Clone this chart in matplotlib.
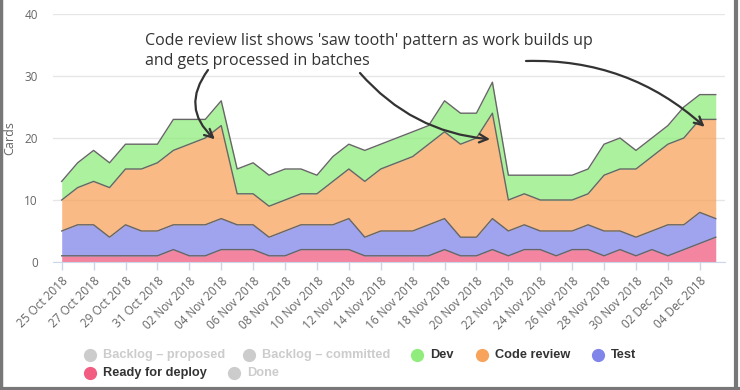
import matplotlib.pyplot as plt
import matplotlib.dates as mdates
import pandas as pd
import numpy as np
from matplotlib.lines import Line2D

# cumulative flow - cards per state per day
dates = pd.date_range(start='2018-10-25', freq='D', periods=42)

ready = [1, 1, 1, 1, 1, 1, 1, 2, 1, 1, 2, 2, 2, 1, 1, 2, 2, 2, 2, 1, 1,
         1, 1, 1, 2, 1, 1, 2, 1, 2, 2, 1, 2, 2, 1, 2, 1, 2, 1, 2, 3, 4]
test = [4, 5, 5, 3, 5, 4, 4, 4, 5, 5, 5, 4, 4, 3, 4, 4, 4, 4, 5, 3, 4,
        4, 4, 5, 5, 3, 3, 5, 4, 4, 3, 4, 3, 4, 4, 3, 3, 3, 5, 4, 5, 3]
review = [5, 6, 7, 8, 9, 10, 11, 12, 13, 14, 15, 5, 5, 5, 5, 5, 5, 7, 8, 9, 10,
          11, 12, 13, 14, 15, 16, 17, 5, 5, 5, 5, 5, 5, 9, 10, 11, 12, 13, 14, 15, 16]
dev = [3, 4, 5, 4, 4, 4, 3, 5, 4, 3, 4, 4, 5, 5, 5, 4, 3, 4, 4, 5, 4,
       4, 4, 3, 5, 5, 4, 5, 4, 3, 4, 4, 4, 4, 5, 5, 3, 3, 3, 5, 4, 4]

series = [ready, test, review, dev]
colors = ['#f15c80', '#8085e9', '#f7a35c', '#90ed7d']

legend_row1 = [('Backlog – proposed', '#cccccc', False), ('Backlog – committed', '#cccccc', False),
               ('Dev', '#90ed7d', True), ('Code review', '#f7a35c', True), ('Test', '#8085e9', True)]
legend_row2 = [('Ready for deploy', '#f15c80', True), ('Done', '#cccccc', False)]

W, H = 740, 390


def px(x, y):
    return x / W, 1 - y / H


fig = plt.figure(figsize=(7.4, 3.9), dpi=100)
ax = fig.add_axes([53 / W, 1 - 262 / H, 672 / W, 248 / H])

bottom = np.zeros(len(dates))
for s, c in zip(series, colors):
    top = bottom + np.array(s)
    ax.fill_between(dates, bottom, top, color=c, alpha=0.75, linewidth=0, zorder=2)
    ax.plot(dates, top, color='#666666', linewidth=1, zorder=3)
    bottom = top

day = pd.Timedelta(days=1)
ax.set_xlim(dates[0] - 0.545 * day, dates[-1] + 0.58 * day)
ax.set_ylim(0, 40)
ax.set_yticks([0, 10, 20, 30, 40])
ax.grid(axis='y', color='#e6e6e6', linewidth=1, zorder=0)
for side in ['left', 'right', 'top']:
    ax.spines[side].set_visible(False)
ax.spines['bottom'].set_color('#ccd6eb')
ax.spines['bottom'].set_zorder(4)

ax.set_xticks(dates[::2])
ax.xaxis.set_major_formatter(mdates.DateFormatter('%d %b %Y'))
ax.tick_params(axis='x', colors='#ccd6eb', length=6, width=1, pad=3)
ax.tick_params(axis='y', length=0, pad=11)
for lab in ax.get_xticklabels():
    lab.set_rotation(45)
    lab.set_ha('right')
    lab.set_rotation_mode('anchor')
    lab.set_color('#666666')
    lab.set_fontfamily('Open Sans')
    lab.set_fontsize(8.5)
for lab in ax.get_yticklabels():
    lab.set_color('#666666')
    lab.set_fontfamily('Open Sans')
    lab.set_fontsize(8.5)

fig.text(*px(10, 138), 'Cards', rotation=90, ha='center', va='center',
         color='#666666', fontfamily='Open Sans', fontsize=9)

# annotation
fig.text(*px(145, 33), "Code review list shows 'saw tooth' pattern as work builds up\nand gets processed in batches",
         ha='left', va='top', color='#333333', fontfamily='Open Sans', fontsize=11.5, linespacing=1.3)

arrow = dict(arrowstyle='->', color='#333333', linewidth=1.6, shrinkA=0, shrinkB=0,
             mutation_scale=15)
ax.annotate('', xy=(dates[9] + 0.6 * day, 19.8), xycoords='data',
            xytext=(208, H - 70), textcoords='figure pixels',
            arrowprops=dict(arrow, connectionstyle='arc3,rad=0.45'))
ax.annotate('', xy=(dates[26] + 0.85 * day, 19.8), xycoords='data',
            xytext=(360, H - 73), textcoords='figure pixels',
            arrowprops=dict(arrow, connectionstyle='arc3,rad=0.2'))
ax.annotate('', xy=(dates[40] + 0.3 * day, 21.8), xycoords='data',
            xytext=(526, H - 61), textcoords='figure pixels',
            arrowprops=dict(arrow, connectionstyle='arc3,rad=-0.2'))

# legend drawn by hand
def legend_item(x, y, label, color, active):
    fig.add_artist(Line2D([x / W], [1 - y / H], marker='o', markersize=8.5, color=color,
                          linestyle='none', transform=fig.transFigure))
    fig.text((x + 13) / W, 1 - y / H, label, ha='left', va='center', fontsize=9.2,
             fontfamily='Liberation Sans', fontweight='bold',
             color='#333333' if active else '#cccccc')


row1_x = [90, 249, 417, 482, 598]
row2_x = [90, 234]
for x, (label, color, active) in zip(row1_x, legend_row1):
    legend_item(x, 355, label, color, active)
for x, (label, color, active) in zip(row2_x, legend_row2):
    legend_item(x, 373, label, color, active)

# grey frame around the chart
frame = dict(color='#777777', transform=fig.transFigure)
fig.add_artist(Line2D([1 / W, 1 / W], [0, 1], linewidth=2.5, **frame))
fig.add_artist(Line2D([736 / W, 736 / W], [0, 1], linewidth=3, **frame))
fig.add_artist(Line2D([0, 1], [1.5 / H, 1.5 / H], linewidth=3, **frame))

fig.savefig('out.png', dpi=100)
